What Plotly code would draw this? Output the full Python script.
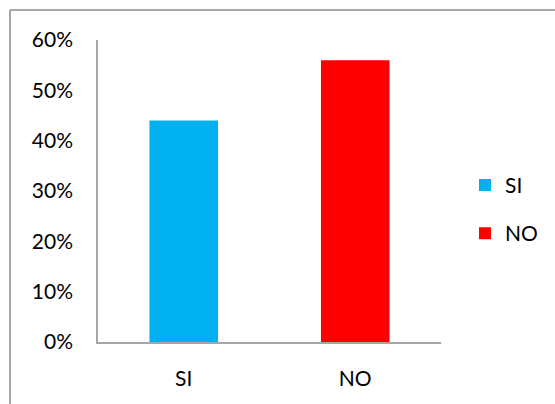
import plotly.graph_objects as go

categories = ["SI", "NO"]
shares = [0.44, 0.56]
colors = ["#00B0F0", "#FF0000"]
y_ticks = [0, 0.1, 0.2, 0.3, 0.4, 0.5, 0.6]

W, H = 555, 404
L, R, T, B = 98, 114, 40, 62
pw, ph = W - L - R, H - T - B


def px_x(px):
    return (px - L) / pw


def px_y(py):
    return (H - B - py) / ph


fig = go.Figure()
for cat, val, col in zip(categories, shares, colors):
    fig.add_trace(go.Bar(
        x=[cat], y=[val], name=cat, marker=dict(color=col, line=dict(width=0)),
        legendgroup=cat, hoverinfo="skip",
    ))

font = dict(family="Lato, 'Open Sans', sans-serif", size=21, color="#000000")
axis_col = "#A6A6A6"

fig.update_layout(
    width=W, height=H,
    margin=dict(l=L, r=R, t=T, b=B),
    paper_bgcolor="white", plot_bgcolor="white",
    barmode="overlay", bargap=0.6,
    font=font,
    showlegend=True,
    legend=dict(
        x=1.07, y=0.587, xanchor="left", yanchor="top",
        traceorder="grouped", tracegroupgap=18,
        itemwidth=30, font=dict(size=21),
    ),
    xaxis=dict(
        showline=True, linecolor=axis_col, linewidth=1.5,
        showgrid=False, ticks="", ticklabelstandoff=17,
    ),
    yaxis=dict(
        range=[0, 0.6], tickvals=y_ticks, tickformat=".0%",
        showline=True, linecolor=axis_col, linewidth=1.5,
        showgrid=False, ticks="", ticklabelstandoff=19, zeroline=False,
    ),
    shapes=[
        dict(type="line", xref="paper", yref="paper",
             x0=px_x(10), x1=px_x(W), y0=px_y(10), y1=px_y(10),
             line=dict(color=axis_col, width=2)),
        dict(type="line", xref="paper", yref="paper",
             x0=px_x(10), x1=px_x(10), y0=px_y(10), y1=px_y(H),
             line=dict(color=axis_col, width=2)),
    ],
)

fig.write_html("out.html")
